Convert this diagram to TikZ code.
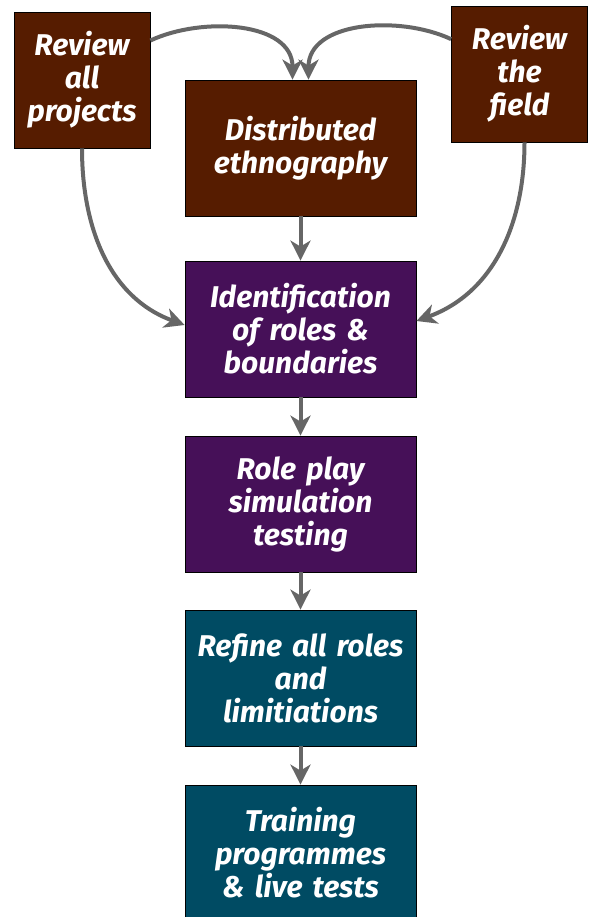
\documentclass[tikz,border=0pt]{standalone}
\usepackage{fontspec}
\setmainfont{Fira Sans}
\usetikzlibrary{arrows.meta}

\definecolor{brownbox}{HTML}{561C00}
\definecolor{purplebox}{HTML}{461058}
\definecolor{tealbox}{HTML}{004B63}
\definecolor{arrowgray}{HTML}{666666}

\tikzset{
	stage/.style={draw=black, line width=0.8pt, text=white, minimum width=231pt, minimum height=136pt,
		text width=225pt, align=center, inner sep=0pt,
		font=\fontsize{30}{33}\selectfont\bfseries\itshape},
	review/.style={stage, minimum width=136pt, text width=134pt},
	flow/.style={-{Stealth[length=20pt, width=20pt, inset=6pt]}, arrowgray, line width=4pt}
}

\begin{document}
\begin{tikzpicture}[x=1pt, y=1pt]
	\useasboundingbox (0,0) rectangle (589,-917);
	% boxes
	\node[review, fill=brownbox] (allproj) at (82,-80) {Review\\all\\projects};
	\node[review, fill=brownbox] (field) at (519.5,-74) {Review\\the\\field};
	\node[stage, fill=brownbox] (ethno) at (300.5,-148) {Distributed\\ethnography};
	\node[stage, fill=purplebox] (roles) at (300.5,-329) {Identification\\of roles \&\\boundaries};
	\node[stage, fill=purplebox] (play) at (300.5,-504) {Role play\\simulation\\testing};
	\node[stage, fill=tealbox] (refine) at (300.5,-678) {Refine all roles\\and\\limitiations};
	\node[stage, fill=tealbox] (train) at (300.5,-853) {Training\\programmes\\\& live tests};
	% curved arrows
	\draw[flow] (allproj.30) to[out=25, in=90] ([xshift=-8pt]ethno.north);
	\draw[flow] (field.153) to[out=155, in=90] ([xshift=8pt]ethno.north);
	\draw[flow] (allproj.south) to[out=-90, in=160] ([yshift=4pt]roles.west);
	\draw[flow] ([xshift=5pt]field.south) to[out=-90, in=20] ([yshift=8pt]roles.east);
	% straight arrows
	\draw[flow] (ethno) -- (roles);
	\draw[flow] (roles) -- (play);
	\draw[flow] (play) -- (refine);
	\draw[flow] (refine) -- (train);
\end{tikzpicture}
\end{document}
